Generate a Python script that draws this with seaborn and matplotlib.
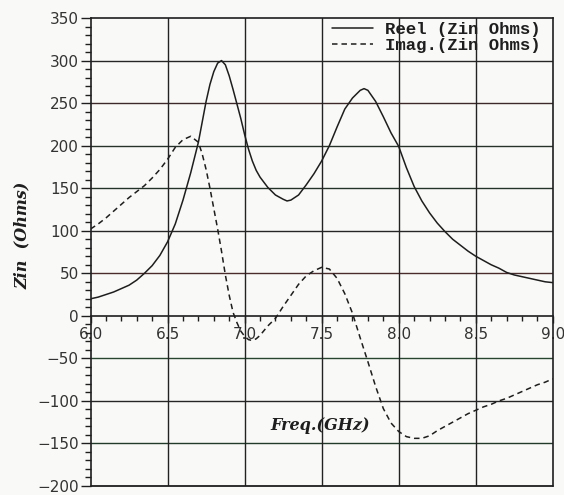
import matplotlib
matplotlib.use("Agg")
import matplotlib.pyplot as plt
from matplotlib.ticker import MultipleLocator, FormatStrFormatter
from matplotlib.font_manager import FontProperties
import pandas as pd
import seaborn as sns

# Input impedance of the antenna versus frequency
freq_re = [6.00, 6.05, 6.10, 6.15, 6.20, 6.25, 6.30, 6.35, 6.40, 6.45, 6.50,
           6.55, 6.60, 6.65, 6.70, 6.725, 6.75, 6.775, 6.80, 6.825, 6.85,
           6.875, 6.90, 6.925, 6.95, 6.975, 7.00, 7.025, 7.05, 7.075, 7.10,
           7.15, 7.20, 7.25, 7.275, 7.30, 7.35, 7.40, 7.45, 7.50, 7.55, 7.60,
           7.65, 7.70, 7.75, 7.775, 7.80, 7.85, 7.90, 7.95, 8.00, 8.05, 8.10,
           8.15, 8.20, 8.25, 8.30, 8.35, 8.40, 8.45, 8.50, 8.55, 8.60, 8.65,
           8.70, 8.75, 8.80, 8.85, 8.90, 8.95, 9.00]
zin_reel = [20, 22, 25, 28, 32, 36, 42, 50, 59, 71, 87,
            108, 136, 168, 204, 228, 252, 272, 287, 297, 300,
            295, 282, 266, 249, 232, 213, 196, 182, 171, 163,
            151, 142, 137, 135, 136, 142, 154, 167, 182, 200, 222,
            243, 256, 265, 267, 265, 252, 234, 215, 199, 174, 152,
            135, 121, 109, 99, 90, 83, 76, 70, 65, 60, 56,
            51, 48, 46, 44, 42, 40, 39]

freq_im = [6.00, 6.05, 6.10, 6.15, 6.20, 6.25, 6.30, 6.35, 6.40, 6.45, 6.50,
           6.55, 6.60, 6.65, 6.70, 6.725, 6.75, 6.775, 6.80, 6.825, 6.85,
           6.875, 6.90, 6.925, 6.95, 6.975, 7.00, 7.025, 7.05, 7.075, 7.10,
           7.15, 7.20, 7.25, 7.30, 7.35, 7.40, 7.45, 7.50, 7.55, 7.60, 7.65,
           7.70, 7.75, 7.80, 7.85, 7.90, 7.95, 8.00, 8.05, 8.10, 8.15, 8.20,
           8.25, 8.30, 8.35, 8.40, 8.45, 8.50, 8.55, 8.60, 8.65, 8.70, 8.75,
           8.80, 8.85, 8.90, 8.95, 9.00]
zin_imag = [102, 108, 115, 123, 131, 139, 146, 153, 162, 172, 184,
            198, 207, 211, 204, 190, 172, 150, 126, 102, 76,
            48, 24, 4, -8, -18, -24, -28, -29, -27, -23,
            -12, -3, 11, 24, 37, 47, 53, 57, 55, 44, 26,
            3, -26, -54, -83, -109, -126, -136, -142, -144, -144, -141,
            -135, -130, -125, -120, -115, -111, -107, -104, -100, -97, -93,
            -89, -85, -81, -78, -74]

label_reel = "Reel (Zin Ohms)"
label_imag = "Imag.(Zin Ohms)"

y_grid = [-150, -100, -50, 50, 100, 150, 200, 250, 300]
x_grid = [6.5, 7.0, 7.5, 8.0, 8.5]

paper = "#f9f9f7"
ink = "#1e1e1e"
grid_colors = {-150: "#223a2a", -100: "#262626", -50: "#27452f", 50: "#4a2c2c",
               100: "#262626", 150: "#24332a", 200: "#27332a", 250: "#3d2929",
               300: "#262626"}

sns.set_style("ticks")
plt.rcParams["font.family"] = ["DejaVu Sans"]
plt.rcParams["axes.unicode_minus"] = True

fig = plt.figure(figsize=(5.64, 4.95), dpi=100, facecolor=paper)
ax = fig.add_axes([0.1605, 0.0182, 0.8197, 0.9454])
ax.set_facecolor(paper)

df_re = pd.DataFrame({"Freq": freq_re, "Zin": zin_reel})
df_im = pd.DataFrame({"Freq": freq_im, "Zin": zin_imag})
sns.lineplot(data=df_re, x="Freq", y="Zin", ax=ax, color=ink, lw=1.1,
             label=label_reel, zorder=3)
sns.lineplot(data=df_im, x="Freq", y="Zin", ax=ax, color=ink, lw=1.1,
             linestyle=(0, (3.6, 2.6)), label=label_imag, zorder=3)

ax.set_xlim(6.0, 9.0)
ax.set_ylim(-200, 350)

# grid drawn on top of the tick labels, like a plotter sheet
for y in y_grid:
    ax.axhline(y, color=grid_colors[y], lw=1.0, zorder=2.2)
for x in x_grid:
    ax.axvline(x, color="#222222", lw=1.0, zorder=2.2)
ax.axhline(-200, color=ink, lw=1.3, zorder=2.4, clip_on=False)

for side in ["left", "right", "top", "bottom"]:
    ax.spines[side].set_color(ink)
    ax.spines[side].set_linewidth(1.2)
ax.spines["bottom"].set_position(("data", 0))

ax.xaxis.set_major_locator(MultipleLocator(0.5))
ax.xaxis.set_minor_locator(MultipleLocator(0.1))
ax.xaxis.set_major_formatter(FormatStrFormatter("%.1f"))
ax.yaxis.set_major_locator(MultipleLocator(50))
ax.yaxis.set_minor_locator(MultipleLocator(10))

ax.tick_params(axis="x", which="major", direction="out", length=5, width=1.0,
               labelsize=11, pad=3, colors=ink, labelcolor="#333333")
ax.tick_params(axis="x", which="minor", direction="out", length=3.5, width=1.0,
               colors=ink)
ax.tick_params(axis="y", which="major", direction="out", length=7, width=1.0,
               labelsize=11, pad=1.5, colors=ink, labelcolor="#333333")
ax.tick_params(axis="y", which="minor", direction="out", length=4, width=1.0,
               colors=ink)

label_font = dict(family="DejaVu Serif", weight="bold", style="italic",
                  size=11.5, color=ink)
ax.set_xlabel("Freq.(GHz)", **label_font)
ax.set_ylabel("Zin  (Ohms)", **label_font)
ax.xaxis.set_label_coords(0.496, 0.147)
ax.yaxis.set_label_coords(-0.13, 0.535)

leg = ax.legend(loc="upper right", bbox_to_anchor=(0.958, 0.956),
                bbox_transform=fig.transFigure, frameon=False,
                prop=FontProperties(family="Liberation Mono", weight="bold",
                                    size=12.5),
                handlelength=2.36, handletextpad=0.7, labelspacing=0.05,
                borderpad=0, borderaxespad=0)
leg.set_zorder(1.8)
for t in leg.get_texts():
    t.set_color(ink)

fig.savefig("out.png", dpi=100, facecolor=paper)
